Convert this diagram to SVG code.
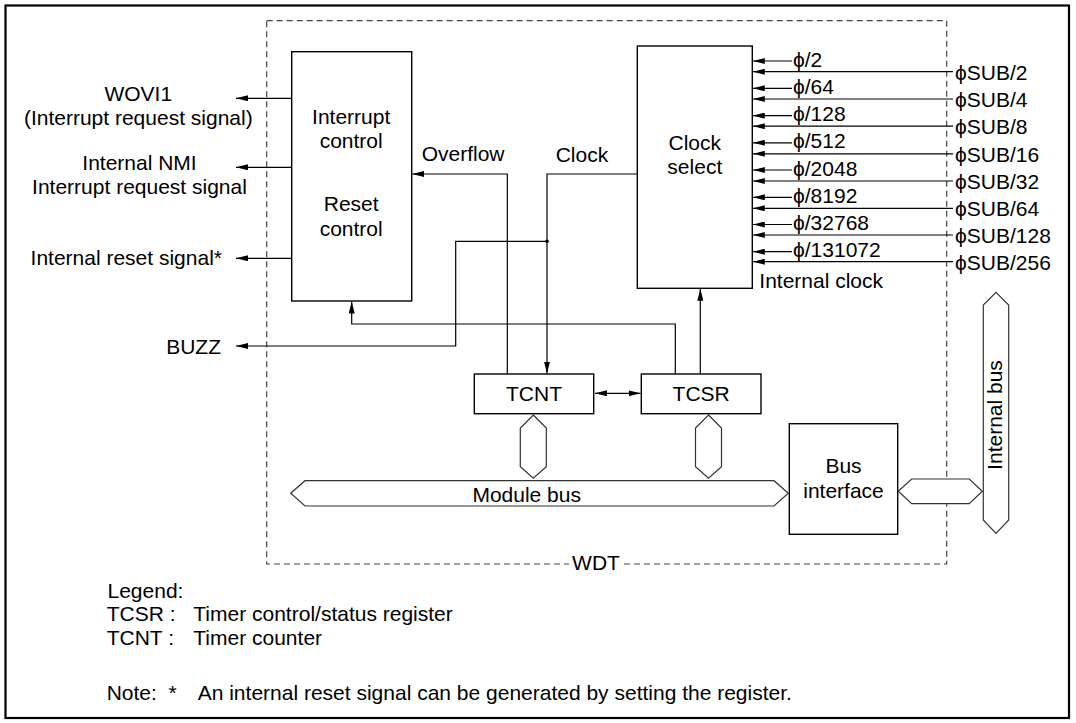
<svg xmlns="http://www.w3.org/2000/svg" width="1076" height="723" viewBox="0 0 1076 723">
<defs>
<style>
text{font-family:"Liberation Sans","DejaVu Sans",Arial,sans-serif;font-size:21px;fill:#000}
.box{fill:#fff;stroke:#000;stroke-width:1.4}
.bus{fill:#fff;stroke:#333;stroke-width:1.2}
.ln{fill:none;stroke:#000;stroke-width:1.2}
.mid{text-anchor:middle}
.end{text-anchor:end}
</style>
<marker id="ah" viewBox="0 0 12 6" refX="12" refY="3" markerWidth="12" markerHeight="6" markerUnits="userSpaceOnUse" orient="auto-start-reverse">
<path d="M0,0 L12,3 L0,6 z" fill="#000"/>
</marker>
</defs>
<rect x="0" y="0" width="1076" height="723" fill="#fff"/>
<rect x="5.5" y="5.5" width="1063.5" height="712.5" fill="none" stroke="#000" stroke-width="2.2"/>

<g id="wdt">
<rect x="266.7" y="20.7" width="680" height="543.3" fill="none" stroke="#444" stroke-width="1.2" stroke-dasharray="6 4"/>
<rect x="569" y="556" width="54" height="16" fill="#fff"/>
<text x="596" y="569.5" class="mid">WDT</text>
</g>

<g id="interrupt-reset-control">
<rect class="box" x="291.7" y="51.7" width="120" height="249.3"/>
<text x="351.2" y="124" class="mid">Interrupt</text>
<text x="351.2" y="148.3" class="mid">control</text>
<text x="351.2" y="210.7" class="mid">Reset</text>
<text x="351.2" y="235.7" class="mid">control</text>
</g>

<g id="clock-select">
<rect class="box" x="637.3" y="46" width="115" height="242.3"/>
<text x="694.8" y="150" class="mid">Clock</text>
<text x="694.8" y="174.3" class="mid">select</text>
</g>

<g id="tcnt">
<rect class="box" x="474.3" y="374" width="119.4" height="39.7"/>
<text x="534" y="400.7" class="mid">TCNT</text>
</g>

<g id="tcsr">
<rect class="box" x="641.3" y="374" width="119.7" height="39.7"/>
<text x="701.2" y="400.7" class="mid">TCSR</text>
</g>

<g id="bus-interface">
<rect class="box" x="789.3" y="423.7" width="108.4" height="110.6"/>
<text x="843.5" y="473" class="mid">Bus</text>
<text x="843.5" y="498" class="mid">interface</text>
</g>

<g id="module-bus">
<polygon class="bus" points="290.7,493.3 305,480.7 774,480.7 788.3,493.3 774,506 305,506"/>
<text x="526.7" y="501.7" class="mid">Module bus</text>
</g>

<g id="internal-bus">
<polygon class="bus" points="996,292.3 1008.7,305 1008.7,520 996,533.3 983.3,520 983.3,305"/>
<text transform="translate(1001.7,415) rotate(-90)" class="mid">Internal bus</text>
</g>

<g id="bus-links">
<polygon class="bus" points="533.3,415 546.3,428 546.3,466.7 533.3,478.3 520.3,466.7 520.3,428"/>
<polygon class="bus" points="708.5,415 721.5,428 721.5,466.7 708.5,478.3 695.5,466.7 695.5,428"/>
<polygon class="bus" points="898.3,491.3 911.7,479 969.3,479 982.3,491.3 969.3,503.7 911.7,503.7"/>
</g>

<g id="connectors" class="ln">
<path class="ln" d="M291.7,98.3 H236" marker-end="url(#ah)"/>
<path class="ln" d="M291.7,167.3 H236" marker-end="url(#ah)"/>
<path class="ln" d="M291.7,258.3 H236" marker-end="url(#ah)"/>
<path class="ln" d="M507.3,374 V174 H412" marker-end="url(#ah)"/>
<path class="ln" d="M637.3,174 H547 V373.5" marker-end="url(#ah)"/>
<path class="ln" d="M547,241.3 H455.7 V346 H236" marker-end="url(#ah)"/>
<circle cx="547" cy="241.3" r="1.8" fill="#000" stroke="none"/>
<path class="ln" d="M675.3,374 V324 H351.7 V301.5" marker-end="url(#ah)"/>
<path class="ln" d="M700.3,374 V288.8" marker-end="url(#ah)"/>
<path class="ln" d="M595,393.3 H640.5" marker-start="url(#ah)" marker-end="url(#ah)"/>
<path class="ln" d="M792,61 H752.8" marker-end="url(#ah)"/>
<path class="ln" d="M792,88.3 H752.8" marker-end="url(#ah)"/>
<path class="ln" d="M792,115.6 H752.8" marker-end="url(#ah)"/>
<path class="ln" d="M792,142.8 H752.8" marker-end="url(#ah)"/>
<path class="ln" d="M792,170 H752.8" marker-end="url(#ah)"/>
<path class="ln" d="M792,197.3 H752.8" marker-end="url(#ah)"/>
<path class="ln" d="M792,224.5 H752.8" marker-end="url(#ah)"/>
<path class="ln" d="M792,251.7 H752.8" marker-end="url(#ah)"/>
<path class="ln" d="M953,71.7 H752.8" marker-end="url(#ah)"/>
<path class="ln" d="M953,99 H752.8" marker-end="url(#ah)"/>
<path class="ln" d="M953,126.2 H752.8" marker-end="url(#ah)"/>
<path class="ln" d="M953,153.8 H752.8" marker-end="url(#ah)"/>
<path class="ln" d="M953,181 H752.8" marker-end="url(#ah)"/>
<path class="ln" d="M953,208.3 H752.8" marker-end="url(#ah)"/>
<path class="ln" d="M953,235 H752.8" marker-end="url(#ah)"/>
<path class="ln" d="M953,261.7 H752.8" marker-end="url(#ah)"/>
</g>

<g id="outputs">
<text x="138.3" y="101" class="mid">WOVI1</text>
<text x="138.3" y="124.5" class="mid">(Interrupt request signal)</text>
<text x="139.5" y="170" class="mid">Internal NMI</text>
<text x="139.5" y="194" class="mid">Interrupt request signal</text>
<text x="222" y="265" class="end">Internal reset signal*</text>
<text x="221" y="354.3" class="end">BUZZ</text>
<text x="421.7" y="161">Overflow</text>
<text x="555.7" y="161.7">Clock</text>
</g>

<g id="clock-inputs">
<text x="793" y="66.7">ϕ/2</text>
<text x="793" y="94">ϕ/64</text>
<text x="793" y="121.2">ϕ/128</text>
<text x="793" y="148.4">ϕ/512</text>
<text x="793" y="175.6">ϕ/2048</text>
<text x="793" y="202.8">ϕ/8192</text>
<text x="793" y="230">ϕ/32768</text>
<text x="793" y="257.2">ϕ/131072</text>
<text x="955" y="79.7">ϕSUB/2</text>
<text x="955" y="107">ϕSUB/4</text>
<text x="955" y="134.2">ϕSUB/8</text>
<text x="955" y="161.8">ϕSUB/16</text>
<text x="955" y="189">ϕSUB/32</text>
<text x="955" y="216.3">ϕSUB/64</text>
<text x="955" y="243">ϕSUB/128</text>
<text x="955" y="269.7">ϕSUB/256</text>
<text x="759.3" y="288.3">Internal clock</text>
</g>

<g id="legend">
<text x="107.5" y="597.7">Legend:</text>
<text x="106.7" y="620.7">TCSR :</text>
<text x="193.3" y="620.7">Timer control/status register</text>
<text x="106.7" y="645">TCNT :</text>
<text x="193.3" y="645">Timer counter</text>
<text x="106.7" y="700">Note:</text>
<text x="168.5" y="700">*</text>
<text x="197.7" y="700">An internal reset signal can be generated by setting the register.</text>
</g>
</svg>
